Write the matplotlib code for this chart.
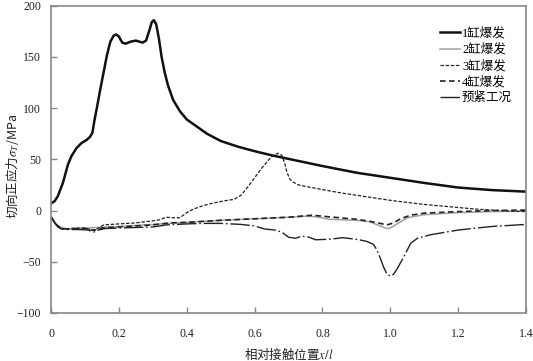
import matplotlib as mpl
mpl.use('Agg')
import matplotlib.pyplot as plt

# 1缸爆发
x1 = [0, 0.01, 0.02, 0.035, 0.05, 0.06, 0.075, 0.09, 0.105, 0.115, 0.122, 0.128, 0.135, 0.145,
      0.155, 0.165, 0.175, 0.185, 0.192, 0.2, 0.21, 0.22, 0.235, 0.25, 0.26, 0.27, 0.28, 0.29,
      0.297, 0.303, 0.31, 0.318, 0.326, 0.335, 0.345, 0.36, 0.38, 0.4, 0.43, 0.46, 0.5, 0.55,
      0.6, 0.65, 0.7, 0.8, 0.9, 1.0, 1.1, 1.2, 1.3, 1.4]
y1 = [7, 9, 14, 27, 45, 53, 61, 66, 69, 72, 76, 88, 100, 118,
      135, 152, 165, 171, 172, 170, 164, 163, 165, 166, 165, 164, 166, 176,
      184, 186, 182, 168, 150, 135, 122, 108, 97, 89, 82, 75, 68, 62.5,
      58, 54, 50.5, 43.5, 37, 32, 27, 22.5, 20, 18.5]

# 2缸爆发
x2 = [0, 0.01, 0.02, 0.03, 0.045, 0.1, 0.2, 0.3, 0.4, 0.5, 0.6, 0.7, 0.75, 0.78, 0.82, 0.86,
      0.9, 0.94, 0.97, 0.99, 1.0, 1.02, 1.05, 1.1, 1.2, 1.3, 1.4]
y2 = [-6, -11, -15, -17, -18, -17, -15.5, -13.5, -11.5, -9.5, -8, -6.5, -5.5, -6, -8.5, -9,
      -9.5, -11, -15, -17.5, -17, -13, -7, -4, -2, -1, -0.5]

# 3缸爆发
x3 = [0, 0.01, 0.02, 0.03, 0.045, 0.07, 0.1, 0.12, 0.13, 0.14, 0.155, 0.2, 0.25, 0.3, 0.32,
      0.34, 0.36, 0.38, 0.4, 0.42, 0.45, 0.48, 0.51, 0.54, 0.56, 0.58, 0.6, 0.62, 0.64, 0.655,
      0.67, 0.68, 0.688, 0.695, 0.703, 0.715, 0.73, 0.76, 0.8, 0.85, 0.9, 0.95, 1.0, 1.05, 1.1,
      1.15, 1.2, 1.25, 1.3, 1.35, 1.4]
y3 = [-6, -11, -15, -17, -18, -17, -17, -19, -19, -17, -14, -13, -12, -10, -9,
      -6.5, -7, -7, -2, 1.5, 5, 7.5, 9.5, 11, 15, 23, 32, 41, 49, 54,
      56, 54, 47, 38, 31, 27.5, 25, 23, 20.5, 17.5, 15, 12.5, 10, 8, 6,
      4.5, 3, 1.5, 0.5, -0.5, -1]

# 4缸爆发
x4 = [0, 0.01, 0.02, 0.03, 0.045, 0.1, 0.12, 0.135, 0.15, 0.2, 0.3, 0.35, 0.4, 0.5, 0.6, 0.7,
      0.77, 0.8, 0.85, 0.9, 0.94, 0.97, 0.99, 1.01, 1.03, 1.06, 1.1, 1.2, 1.3, 1.4]
y4 = [-6, -11, -15, -17, -18, -17.5, -19, -19, -17, -16, -14, -12, -11.5, -9.5, -8, -6.5,
      -4.5, -5.5, -7, -8.5, -10.5, -12.5, -14, -12, -8, -4.5, -2.5, -1, 0, 0.5]

# 预紧工况
x5 = [0, 0.01, 0.02, 0.03, 0.045, 0.08, 0.11, 0.125, 0.14, 0.16, 0.2, 0.3, 0.34, 0.4, 0.45,
      0.5, 0.56, 0.6, 0.63, 0.66, 0.68, 0.7, 0.72, 0.74, 0.76, 0.78, 0.82, 0.86, 0.9, 0.93,
      0.95, 0.96, 0.97, 0.98, 0.99, 1.0, 1.01, 1.02, 1.04, 1.06, 1.08, 1.12, 1.2, 1.3, 1.4]
y5 = [-6, -12, -16, -18, -18.5, -18.5, -19, -21, -19, -17.5, -17, -16, -14, -13, -12.5,
      -12.5, -13.5, -15, -18, -19, -21, -26, -27, -25, -26, -28.5, -28, -26.5, -28, -30,
      -33, -38, -46, -55, -62, -64, -62, -57, -45, -32, -27, -23.5, -19, -15.5, -13.5]

labels = ['1缸爆发', '2缸爆发', '3缸爆发', '4缸爆发', '预紧工况']
xticks = [0, 0.2, 0.4, 0.6, 0.8, 1.0, 1.2, 1.4]
xticklabels = ['0', '0.2', '0.4', '0.6', '0.8', '1.0', '1.2', '1.4']
yticks = [-100, -50, 0, 50, 100, 150, 200]

plt.rcParams['font.family'] = ['Liberation Serif', 'Noto Sans CJK SC']
plt.rcParams['mathtext.fontset'] = 'stix'
plt.rcParams['lines.scale_dashes'] = False

fig = plt.figure(figsize=(5.33, 3.61), dpi=100)
ax = fig.add_axes([0.0957, 0.133, 0.8912, 0.851])

ax.plot(x1, y1, color='#111111', lw=1.8, label=labels[0])
ax.plot(x2, y2, color='#a0a0a0', lw=1.1, label=labels[1])
ax.plot(x3, y3, color='#222222', lw=0.9, dashes=(2.5, 1.2), label=labels[2])
ax.plot(x4, y4, color='#222222', lw=1.2, dashes=(4, 2.5), label=labels[3])
ax.plot(x5, y5, color='#222222', lw=1.0, dashes=(14, 2, 1.2, 2), label=labels[4])

ax.set_xlim(0, 1.4)
ax.set_ylim(-100, 200)
ax.set_xticks(xticks)
ax.set_xticklabels(xticklabels)
ax.set_yticks(yticks)

for s in ax.spines.values():
    s.set_color('#888888')
    s.set_linewidth(1.2)
ax.tick_params(direction='in', length=4, width=1.0, color='#888888',
               labelsize=8.5, labelcolor='#222222')
ax.tick_params(axis='x', pad=11)
ax.tick_params(axis='y', pad=7)

ax.set_xlabel('相对接触位置$x/l$', family='Noto Sans CJK SC', fontsize=9, color='#222222', labelpad=4)
ax.set_ylabel('切向正应力$\\sigma_T$/MPa', family='Noto Sans CJK SC', fontsize=9, color='#222222')
ax.yaxis.set_label_coords(-0.064, 0.476)

ax.legend(loc='upper left', bbox_to_anchor=(0.818, 0.93), frameon=False, fontsize=9,
          handlelength=1.6, handletextpad=0.2, labelspacing=0.3, borderpad=0,
          borderaxespad=0)

fig.savefig('out.png', dpi=100)
